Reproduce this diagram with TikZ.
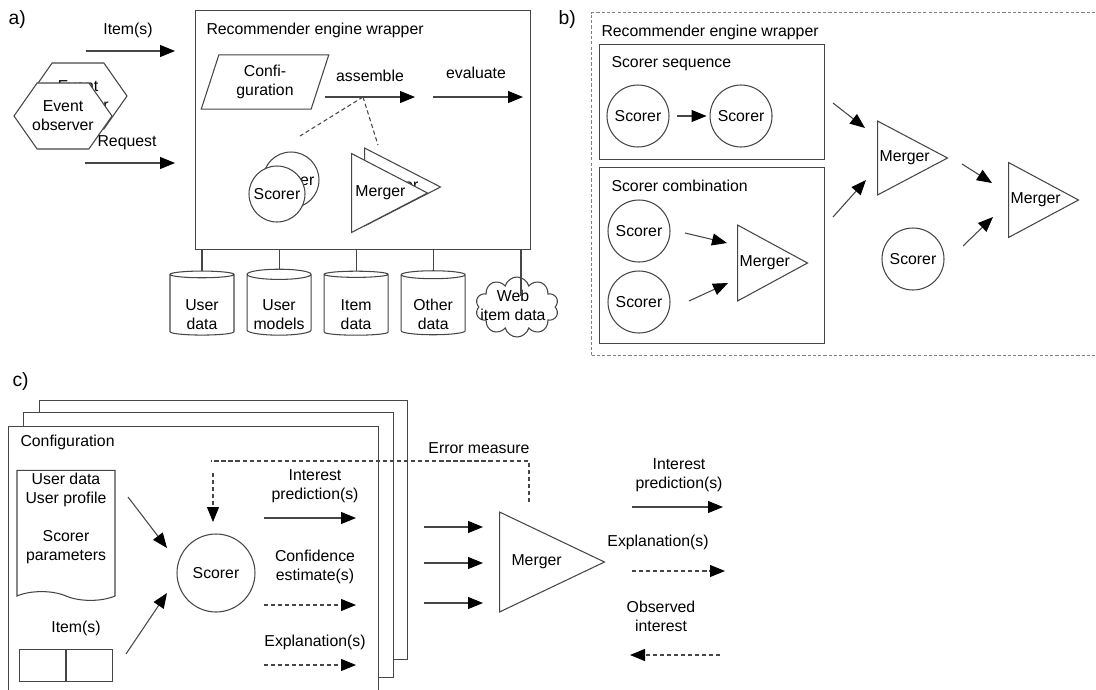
\documentclass[tikz,border=0pt]{standalone}
\usepackage{fontspec}
\setmainfont{Liberation Sans}
\usetikzlibrary{positioning,calc,arrows.meta,shapes.geometric,shapes.symbols}
\definecolor{linegray}{RGB}{70,70,70}
\tikzstyle{frame} = [rectangle, draw=linegray, fill=white, anchor=north west, inner sep=0pt]
\tikzstyle{caption} = [anchor=west, inner sep=0pt]
\tikzstyle{panel} = [anchor=west, inner sep=0pt, font=\fontsize{11}{13}\selectfont]
\tikzstyle{txt} = [align=center, inner sep=0pt]
\tikzstyle{scorer} = [circle, draw=linegray, fill=white, inner sep=0pt, minimum size=1.24cm]
\tikzstyle{merger} = [isosceles triangle, isosceles triangle stretches, draw=linegray, fill=white, inner sep=0pt, anchor=lower side]
\tikzstyle{database} = [cylinder, shape border rotate=90, aspect=0.2, draw=linegray, fill=white, align=center, inner sep=0pt, minimum width=1.28cm, minimum height=1.28cm]
\tikzstyle{observer} = [signal, signal to=west and east, signal pointer angle=110, draw=linegray, fill=white, inner sep=0pt, minimum width=1.96cm, minimum height=1.32cm]
\tikzstyle{arrow} = [draw=linegray, -{Triangle[length=0.3cm,width=0.24cm,black]}]
\tikzstyle{dasharrow} = [arrow, dash pattern=on 2.4pt off 1.6pt]
\tikzstyle{link} = [draw=linegray, dash pattern=on 2.4pt off 1.6pt]
\tikzstyle{cell} = [rectangle, draw=linegray, minimum width=0.92cm, minimum height=0.64cm, inner sep=0pt]
\newcommand{\dbstrut}{\rule{0pt}{0.62cm}}

\begin{document}
\begin{tikzpicture}[x=0.02cm, y=-0.02cm, line width=0.6pt, font=\fontsize{9}{10.8}\selectfont]
    \useasboundingbox (0,0) rectangle (1096,690);
    % Panel a ---------------------------------------------------------------------------------
    \node[panel] (label_a) at (8,19) {a)};
    \node[frame, minimum width=6.7cm, minimum height=4.78cm] (wrapper_a) at (195,10) {};
    \node[caption] (wrapper_a_title) at (206,30) {Recommender engine wrapper};
    \node[trapezium, trapezium left angle=72, trapezium right angle=108, draw=linegray, align=center, inner sep=0pt, minimum width=2.56cm, minimum height=1.06cm] (config_a) at (265,82) {Confi-\\guration};
    % Event observers
    \node[observer, label={[txt]center:Event\\observer}] (observer_back) at (78,96) {};
    \node[observer, label={[txt]center:Event\\observer}] (observer) at (63,116) {};
    \node[txt] (item_lbl_a) at (128,30) {Item(s)};
    \node[txt] (request_lbl) at (127,143) {Request};
    \coordinate (item_in) at (86,51);
    \coordinate (request_in) at (85,163);
    \draw[arrow, shorten >=0.4cm] (item_in) -- (item_in -| wrapper_a.west);
    \draw[arrow, shorten >=0.4cm] (request_in) -- (request_in -| wrapper_a.west);
    % Assemble / evaluate
    \node[txt] (assemble_lbl) at (370,76) {assemble};
    \node[txt] (evaluate_lbl) at (476,73) {evaluate};
    \coordinate (assemble_from) at (325,97);
    \coordinate (assemble_mid) at (363,97);
    \coordinate (assemble_to) at (415,97);
    \coordinate (evaluate_from) at (433,97);
    \coordinate (evaluate_to) at (523,97);
    \draw[arrow] (assemble_from) -- (assemble_to);
    \draw[arrow] (evaluate_from) -- (evaluate_to);
    % Scorer and merger stacks
    \node[scorer, minimum size=1.12cm] (scorer_back) at (291,180) {Scorer};
    \node[scorer, minimum size=1.12cm] (scorer_a) at (277,194) {Scorer};
    \node[merger, minimum width=1.56cm, minimum height=1.52cm] (merger_back) at (364,187) {Merger};
    \node[merger, minimum width=1.58cm, minimum height=1.52cm] (merger_a) at (351,193) {Merger};
    \coordinate (scorer_link) at (300,136);
    \coordinate (merger_link) at (378,145);
    \draw[link] (assemble_mid) -- (scorer_link);
    \draw[link] (assemble_mid) -- (merger_link);
    % Data stores
    \node[database] (user_data) at (202,305) {\dbstrut User\\data};
    \node[database, right=0.24cm of user_data] (user_models) {\dbstrut User\\models};
    \node[database, right=0.24cm of user_models] (item_data) {\dbstrut Item\\data};
    \node[database, right=0.24cm of item_data] (other_data) {\dbstrut Other\\data};
    \node[cloud, cloud puffs=10, draw=linegray, fill=white, inner sep=0pt, minimum width=1.66cm, minimum height=1.2cm, label={[txt, xshift=-0.08cm, yshift=0.04cm]center:Web\\item data}] (web_data) at (517,307) {};
    \draw[linegray] (wrapper_a.south -| user_data.north) -- (user_data.north);
    \draw[linegray] (wrapper_a.south -| user_models.north) -- (user_models.north);
    \draw[linegray] (wrapper_a.south -| item_data.north) -- (item_data.north);
    \draw[linegray] (wrapper_a.south -| other_data.north) -- (other_data.north);
    \draw[linegray] ([xshift=0.08cm]wrapper_a.south -| web_data.north) -- ([xshift=0.08cm, yshift=-0.4cm]web_data.north);
    % Panel b ---------------------------------------------------------------------------------
    \node[panel] (label_b) at (558,19) {b)};
    \node[frame, draw=gray, dash pattern=on 1.8pt off 1.2pt, minimum width=10.2cm, minimum height=6.86cm] (wrapper_b) at (591,12) {};
    \node[caption] (wrapper_b_title) at (601,32) {Recommender engine wrapper};
    % Scorer sequence
    \node[frame, minimum width=4.5cm, minimum height=2.3cm] (sequence) at (599,44) {};
    \node[caption] (sequence_title) at (611,64) {Scorer sequence};
    \node[scorer] (seq_first) at (638,116) {Scorer};
    \node[scorer, right=0.8cm of seq_first] (seq_second) {Scorer};
    \draw[arrow, shorten <=0.14cm, shorten >=0.06cm] (seq_first) -- (seq_second);
    % Scorer combination
    \node[frame, minimum width=4.5cm, minimum height=3.52cm] (combination) at (599,167) {};
    \node[caption] (combination_title) at (611,186) {Scorer combination};
    \node[scorer] (comb_first) at (639,231) {Scorer};
    \node[scorer] (comb_second) at (639,302) {Scorer};
    \node[merger, minimum width=1.52cm, minimum height=1.4cm] (comb_merger) at (737,263) {Merger};
    \coordinate (comb_first_out) at (685,233);
    \coordinate (comb_first_in) at (727,243);
    \coordinate (comb_second_out) at (689,301);
    \coordinate (comb_second_in) at (728,283);
    \draw[arrow] (comb_first_out) -- (comb_first_in);
    \draw[arrow] (comb_second_out) -- (comb_second_in);
    % Mergers outside
    \node[merger, minimum width=1.48cm, minimum height=1.4cm] (mid_merger) at (877,158) {Merger};
    \node[merger, minimum width=1.5cm, minimum height=1.4cm] (end_merger) at (1008,200) {Merger};
    \node[scorer] (lone_scorer) at (913,259) {Scorer};
    \coordinate (seq_out) at (833,103);
    \coordinate (seq_in) at (865,128);
    \coordinate (comb_out) at (833,217);
    \coordinate (comb_in) at (866,180);
    \coordinate (mid_out) at (962,164);
    \coordinate (mid_in) at (992,183);
    \coordinate (lone_out) at (963,246);
    \coordinate (lone_in) at (993,217);
    \draw[arrow] (seq_out) -- (seq_in);
    \draw[arrow] (comb_out) -- (comb_in);
    \draw[arrow] (mid_out) -- (mid_in);
    \draw[arrow] (lone_out) -- (lone_in);
    % Panel c ---------------------------------------------------------------------------------
    \node[panel] (label_c) at (12,381) {c)};
    \node[frame, minimum width=7.36cm, minimum height=5.18cm] (config_back) at (39,400) {};
    \node[frame, minimum width=7.4cm, minimum height=5.3cm] (config_mid) at (23,412) {};
    \node[frame, minimum width=7.4cm, minimum height=6cm] (config_front) at (8,426) {};
    \node[caption] (config_title) at (20,442) {Configuration};
    % User document and items
    \node[tape, tape bend top=none, tape bend bottom=out and in, draw=linegray, inner sep=0pt, minimum width=1.96cm, minimum height=2.6cm] (user_doc) at (66,531) {};
    \node[txt] (user_doc_text) at (66,518) {User data\\User profile\\[10.8pt]Scorer\\parameters};
    \node[txt] (items_lbl) at (76,628) {Item(s)};
    \node[cell, anchor=north west] (item_cell_a) at (19,649) {};
    \node[cell, right=0pt of item_cell_a] (item_cell_b) {};
    \node[scorer, minimum size=1.56cm] (scorer_c) at (216,573) {Scorer};
    \coordinate (doc_out) at (128,497);
    \coordinate (doc_in) at (167,548);
    \coordinate (items_out) at (126,654);
    \coordinate (items_in) at (167,593);
    \draw[arrow] (doc_out) -- (doc_in);
    \draw[arrow] (items_out) -- (items_in);
    % Scorer outputs
    \node[txt] (pred_lbl) at (315,486) {Interest\\prediction(s)};
    \node[txt] (conf_lbl) at (315,567) {Confidence\\estimate(s)};
    \node[txt] (expl_lbl) at (315,642) {Explanation(s)};
    \coordinate (pred_from) at (264,518);
    \coordinate (pred_to) at (356,518);
    \coordinate (conf_from) at (264,605);
    \coordinate (conf_to) at (356,605);
    \coordinate (expl_from) at (264,665);
    \coordinate (expl_to) at (356,665);
    \draw[arrow] (pred_from) -- (pred_to);
    \draw[dasharrow] (conf_from) -- (conf_to);
    \draw[dasharrow] (expl_from) -- (expl_to);
    % Merger
    \node[merger, minimum width=2cm, minimum height=2.1cm] (merger_c) at (499,562) {Merger};
    \coordinate (in_one) at (424,527);
    \coordinate (in_two) at (424,563);
    \coordinate (in_three) at (424,603);
    \draw[arrow] (in_one) -- (in_one -| 483,0);
    \draw[arrow] (in_two) -- (in_two -| 483,0);
    \draw[arrow] (in_three) -- (in_three -| 483,0);
    % Error measure
    \node[txt] (error_lbl) at (479,448) {Error measure};
    \coordinate (error_start) at (529,502);
    \coordinate (error_corner) at (211,461);
    \coordinate (error_from) at (213,473);
    \coordinate (error_to) at (213,522);
    \draw[link] (error_start) |- (error_corner);
    \draw[dasharrow] (error_from) -- (error_to);
    % Merger outputs
    \node[txt] (out_pred_lbl) at (679,475) {Interest\\prediction(s)};
    \node[txt] (out_expl_lbl) at (658,542) {Explanation(s)};
    \node[txt] (observed_lbl) at (661,616) {Observed\\interest};
    \coordinate (out_pred_from) at (632,507);
    \coordinate (out_pred_to) at (723,507);
    \coordinate (out_expl_from) at (632,571);
    \coordinate (out_expl_to) at (725,571);
    \coordinate (observed_from) at (720,655);
    \coordinate (observed_to) at (630,655);
    \draw[arrow] (out_pred_from) -- (out_pred_to);
    \draw[dasharrow] (out_expl_from) -- (out_expl_to);
    \draw[dasharrow] (observed_from) -- (observed_to);
\end{tikzpicture}
\end{document}
